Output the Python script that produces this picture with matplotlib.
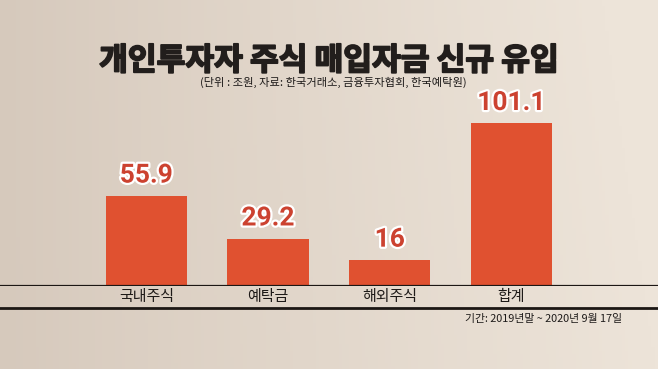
import numpy as np
import matplotlib
matplotlib.use('Agg')
import matplotlib.pyplot as plt
import matplotlib.patheffects as pe
from matplotlib.lines import Line2D
from matplotlib.colors import to_rgb
import matplotlib.transforms as mtransforms

# data
categories = ['국내주식', '예탁금', '해외주식', '합계']
values = [55.9, 29.2, 16, 101.1]
value_labels = ['55.9', '29.2', '16', '101.1']
title = '개인투자자 주식 매입자금 신규 유입'
subtitle = '(단위 : 조원, 자료: 한국거래소, 금융투자협회, 한국예탁원)'
footnote = '기간: 2019년말 ~ 2020년 9월 17일'

plt.rcParams['font.family'] = ['Noto Sans CJK KR', 'DejaVu Sans']

W, H = 658, 369
fig = plt.figure(figsize=(W/100, H/100), dpi=100)

# background gradient
bg = fig.add_axes([0, 0, 1, 1])
bg.set_axis_off()
gx = np.linspace(0, 1, 200)[None, :]
gy = np.linspace(0, 1, 120)[:, None]
left = np.array(to_rgb('#d6c9bc'))
right = np.array(to_rgb('#ede4d9'))
t = np.clip(gx**0.9 + 0.08*(1-gy)*gx, 0, 1)
img = left[None, None, :]*(1-t[..., None]) + right[None, None, :]*t[..., None]
bg.imshow(img, aspect='auto', extent=[0, 1, 0, 1], origin='upper')
bg.set_xlim(0, 1)
bg.set_ylim(0, 1)

# main axes: baseline at y=285.7px, spans full width
base_px = 285.7
ax = fig.add_axes([0, (H-base_px)/H, 1, base_px/H])
ax.patch.set_alpha(0)
x = np.arange(len(categories))
ax.bar(x, values, width=0.67, color='#e05130', zorder=2)
ax.set_xlim(-1.202, 4.205)
ax.set_ylim(0, base_px/1.606)
for s in ax.spines.values():
    s.set_visible(False)
ax.set_xticks([])
ax.set_yticks([])
ax.axhline(0, color='#1c1714', lw=1.6, zorder=3)

for xi, v, lab in zip(x, values, value_labels):
    ax.annotate(lab, (xi, v), xytext=(0, 6), textcoords='offset points',
                ha='center', va='bottom', fontsize=19, fontweight='bold',
                family=['Roboto', 'DejaVu Sans'], color='#cc4230', zorder=4,
                path_effects=[pe.withStroke(linewidth=3.2, foreground='white')])

trans = mtransforms.blended_transform_factory(ax.transData, fig.transFigure)
for xi, c in zip(x, categories):
    ax.text(xi, (H-297)/H, c, transform=trans, ha='center', va='center',
            fontsize=10.8, color='#1e1a18')

# lower rule
fig.add_artist(Line2D([0, 1], [(H-307.8)/H]*2, color='#1c1714', lw=2.0,
                      transform=fig.transFigure))

fig.text(329/W, (H-61)/H, title, ha='center', va='center', fontsize=22.5,
         fontweight='heavy', color='#221e1c',
         path_effects=[pe.withStroke(linewidth=1.3, foreground='#221e1c')])
fig.text(333/W, (H-82)/H, subtitle, ha='center', va='center', fontsize=8.1,
         color='#1e1b1a')
fig.text(622/W, (H-319)/H, footnote, ha='right', va='center', fontsize=7.8,
         color='#1e1b1a')

fig.savefig('out.png', dpi=100)
